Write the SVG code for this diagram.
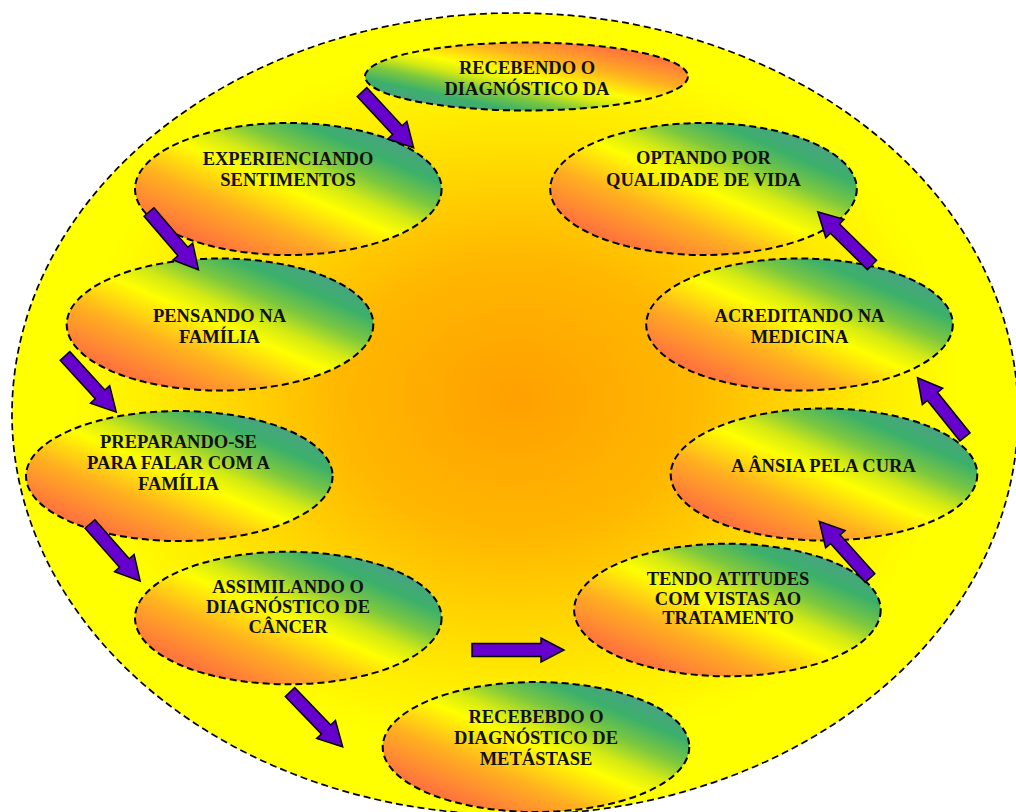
<svg xmlns="http://www.w3.org/2000/svg" xmlns:xlink="http://www.w3.org/1999/xlink" width="1016" height="812" viewBox="0 0 1016 812">
<defs>
<radialGradient id="bg" cx="0.5" cy="0.48" r="0.5">
<stop offset="0" stop-color="#FFA000"/>
<stop offset="0.35" stop-color="#FFB800"/>
<stop offset="0.7" stop-color="#FFEA00"/>
<stop offset="0.88" stop-color="#FFFF00"/>
<stop offset="1" stop-color="#FFFF00"/>
</radialGradient>
<linearGradient id="g" x1="0" y1="1" x2="1" y2="0">
<stop offset="0" stop-color="#FF4A3A"/>
<stop offset="0.18" stop-color="#FF7A3A"/>
<stop offset="0.34" stop-color="#FFB020"/>
<stop offset="0.5" stop-color="#FFFF00"/>
<stop offset="0.58" stop-color="#D4EA14"/>
<stop offset="0.67" stop-color="#7CC83E"/>
<stop offset="0.77" stop-color="#3CB06A"/>
<stop offset="0.9" stop-color="#4F9C8E"/>
<stop offset="1" stop-color="#5090A0"/>
</linearGradient>
<linearGradient id="gr" x1="1" y1="0" x2="0" y2="1">
<stop offset="0" stop-color="#FF4A3A"/>
<stop offset="0.18" stop-color="#FF7A3A"/>
<stop offset="0.34" stop-color="#FFB020"/>
<stop offset="0.5" stop-color="#FFFF00"/>
<stop offset="0.58" stop-color="#D4EA14"/>
<stop offset="0.67" stop-color="#7CC83E"/>
<stop offset="0.77" stop-color="#3CB06A"/>
<stop offset="0.9" stop-color="#4F9C8E"/>
<stop offset="1" stop-color="#5090A0"/>
</linearGradient>
<path id="arr" d="M0,-6.5 H52 V-13 L76,0 L52,13 V6.5 H0 Z" fill="#6600CC" stroke="#000" stroke-width="1.5" stroke-linejoin="miter"/>
</defs>
<style>
.node{fill:url(#g);stroke:#000;stroke-width:2;stroke-dasharray:7,4}
.t{font-family:"Liberation Serif","Times New Roman",serif;font-weight:bold;font-size:18.5px;text-anchor:middle;fill:#111}
</style>
<rect width="1016" height="812" fill="#fff"/>
<ellipse id="outer" cx="515" cy="414" rx="503" ry="401" fill="url(#bg)" stroke="#000" stroke-width="1.7" stroke-dasharray="7,4"/>

<g id="n1"><ellipse class="node" style="fill:url(#gr)" cx="526.5" cy="76.5" rx="161.5" ry="34"/>
<text class="t" x="527" y="73.5">RECEBENDO O</text><text class="t" x="527" y="94.5">DIAGNÓSTICO DA</text></g>

<g id="n2"><ellipse class="node" cx="288.3" cy="189" rx="153.3" ry="66"/>
<text class="t" x="288" y="164.5">EXPERIENCIANDO</text><text class="t" x="288" y="185.8">SENTIMENTOS</text></g>

<g id="n3"><ellipse class="node" cx="703.5" cy="189" rx="153.3" ry="66"/>
<text class="t" x="703.5" y="163.5">OPTANDO POR</text><text class="t" x="703.5" y="186">QUALIDADE DE VIDA</text></g>

<g id="n4"><ellipse class="node" cx="220" cy="324.5" rx="153.3" ry="66"/>
<text class="t" x="219.5" y="321.7">PENSANDO NA</text><text class="t" x="219.5" y="343.3">FAMÍLIA</text></g>

<g id="n5"><ellipse class="node" cx="799.5" cy="324.5" rx="153.3" ry="66"/>
<text class="t" x="799.5" y="321.7">ACREDITANDO NA</text><text class="t" x="799.5" y="343.3">MEDICINA</text></g>

<g id="n6"><ellipse class="node" cx="179.3" cy="476" rx="153.3" ry="65"/>
<text class="t" x="178.5" y="448.3">PREPARANDO-SE</text><text class="t" x="178.5" y="469">PARA FALAR COM A</text><text class="t" x="178.5" y="489.5">FAMÍLIA</text></g>

<g id="n7"><ellipse class="node" cx="824" cy="474.5" rx="153.3" ry="66"/>
<text class="t" x="823.5" y="471.7">A ÂNSIA PELA CURA</text></g>

<g id="n8"><ellipse class="node" cx="288.3" cy="618" rx="153.3" ry="66.3"/>
<text class="t" x="288" y="593.3">ASSIMILANDO O</text><text class="t" x="288" y="613.3">DIAGNÓSTICO DE</text><text class="t" x="288" y="632.7">CÂNCER</text></g>

<g id="n9"><ellipse class="node" cx="727.4" cy="610" rx="153.3" ry="66.3"/>
<text class="t" x="728" y="585">TENDO ATITUDES</text><text class="t" x="728" y="605">COM VISTAS AO</text><text class="t" x="728" y="624.3">TRATAMENTO</text></g>

<g id="n10"><ellipse class="node" cx="536" cy="747" rx="153.3" ry="65"/>
<text class="t" x="536" y="722.7">RECEBEBDO O</text><text class="t" x="536" y="744">DIAGNÓSTICO DE</text><text class="t" x="536" y="765">METÁSTASE</text></g>

<g id="connectors">
<use xlink:href="#arr" transform="translate(362,92) rotate(47.2)"/>
<use xlink:href="#arr" transform="translate(149,212) rotate(49.4)"/>
<use xlink:href="#arr" transform="translate(65,356) rotate(47.6)"/>
<use xlink:href="#arr" transform="translate(90,524) rotate(48.7)"/>
<use xlink:href="#arr" transform="translate(290,692) rotate(46.1)"/>
<path d="M472,643.5 H541 V638 L564,650 L541,662 V656.5 H472 Z" fill="#6600CC" stroke="#000" stroke-width="1.5"/>
<use xlink:href="#arr" transform="translate(870,578) rotate(228.2)"/>
<use xlink:href="#arr" transform="translate(965,437) rotate(231.3)"/>
<use xlink:href="#arr" transform="translate(872,265) rotate(224.5)"/>
</g>
</svg>
